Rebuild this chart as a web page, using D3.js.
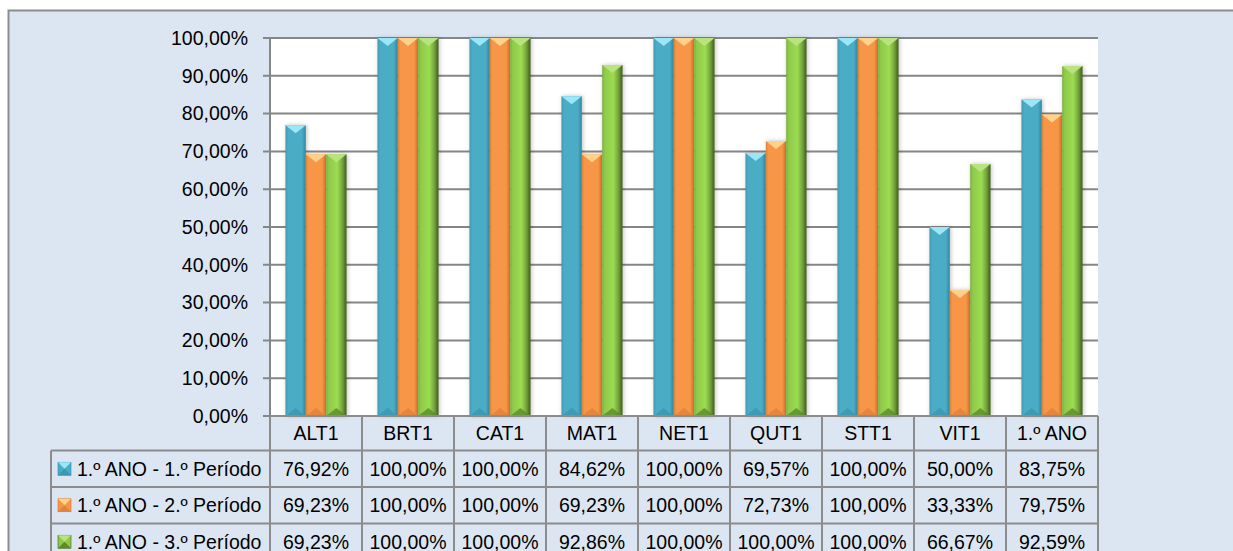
<!DOCTYPE html>
<html><head><meta charset="utf-8">
<script src="https://cdn.jsdelivr.net/npm/d3@7"></script>
<style>body{margin:0;background:#fff;}svg{display:block;font-family:"Liberation Sans",Arial,sans-serif;}</style>
</head><body>
<svg id="c" width="1233" height="551"></svg>
<script>
const categories = ["ALT1","BRT1","CAT1","MAT1","NET1","QUT1","STT1","VIT1","1.º ANO"];
const seriesNames = ["1.º ANO - 1.º Período","1.º ANO - 2.º Período","1.º ANO - 3.º Período"];
const period1 = [76.92,100,100,84.62,100,69.57,100,50.00,83.75];
const period2 = [69.23,100,100,69.23,100,72.73,100,33.33,79.75];
const period3 = [69.23,100,100,92.86,100,100,100,66.67,92.59];
const yTicks = [0,10,20,30,40,50,60,70,80,90,100];

const seriesValues = [period1, period2, period3];
const pal = [
  {main:"#4bacc6", dark:"#2f8aa3", light:"#9be6f7", bottom:"#3b97b0"},
  {main:"#f79646", dark:"#d87424", light:"#fdd28c", bottom:"#e0823a"},
  {main:"#8fc94a", dark:"#3f5c1c", light:"#b9e37e", bottom:"#5d8a2a"}
];

const svg = d3.select("#c");
const W=1233, H=551;
const FS = 19.5;
const fmt = v => d3.format(".2f")(v).replace(".", ",") + "%";

const plot = {left:270, right:1098, top:38, bottom:416};
const x = d3.scaleBand().domain(categories).range([plot.left, plot.right]).padding(0);
const xs = d3.scaleBand().domain(d3.range(3)).range([0, x.bandwidth()]).paddingOuter(0.76).paddingInner(0);
const y = d3.scaleLinear().domain([0,100]).range([plot.bottom, plot.top]);

const defs = svg.append("defs");
pal.forEach((p,i)=>{
  const g = defs.append("linearGradient").attr("id","g"+i).attr("x1","0").attr("x2","1").attr("y1","0").attr("y2","0");
  g.append("stop").attr("offset","0").attr("stop-color", d3.color(p.main).darker(0.4));
  g.append("stop").attr("offset","0.12").attr("stop-color", p.main);
  g.append("stop").attr("offset","0.55").attr("stop-color", i===2 ? d3.color(p.main).brighter(0.25) : p.main);
  g.append("stop").attr("offset","0.8").attr("stop-color", i===2 ? d3.color(p.main).darker(0.6) : p.main);
  g.append("stop").attr("offset","1").attr("stop-color", p.dark);
});
const f = defs.append("filter").attr("id","sh").attr("x","-30%").attr("y","-10%").attr("width","160%").attr("height","120%");
f.append("feDropShadow").attr("dx",1).attr("dy",0).attr("stdDeviation",2).attr("flood-color","#000").attr("flood-opacity",0.25);

svg.append("rect").attr("x",0).attr("y",0).attr("width",W).attr("height",H).attr("fill","#fff");
svg.append("rect").attr("x",8.5).attr("y",10.5).attr("width",W+20).attr("height",H+20)
  .attr("fill","#dce6f2").attr("stroke","#8c8c8c").attr("stroke-width",2);

svg.append("rect").attr("x",plot.left).attr("y",plot.top).attr("width",plot.right-plot.left).attr("height",plot.bottom-plot.top).attr("fill","#fff");

const grid = svg.append("g");
yTicks.forEach(t=>{
  grid.append("line").attr("x1",plot.left-7).attr("x2",plot.right).attr("y1",y(t)).attr("y2",y(t))
    .attr("stroke","#868686").attr("stroke-width",2);
  grid.append("text").attr("x",248).attr("y",y(t)).attr("dy","0.35em").attr("text-anchor","end")
    .attr("font-size",FS).attr("fill","#000").text(fmt(t));
});
grid.append("line").attr("x1",plot.left).attr("x2",plot.left).attr("y1",plot.top).attr("y2",plot.bottom).attr("stroke","#868686").attr("stroke-width",2);

const bars = svg.append("g");
categories.forEach((c,ci)=>{
  seriesValues.forEach((vals,si)=>{
    const v = vals[ci];
    const x0 = x(c) + xs(si), bw = xs.bandwidth();
    const y0 = y(v), y1 = y(0);
    const g = bars.append("g");
    g.append("rect").attr("x",x0).attr("y",y0).attr("width",bw).attr("height",y1-y0)
      .attr("fill","url(#g"+si+")").attr("filter","url(#sh)");
    const th = Math.min(8, (y1-y0)/2);
    g.append("path").attr("d",`M${x0},${y0}L${x0+bw},${y0}L${x0+bw/2},${y0+th}Z`).attr("fill",pal[si].light);
    g.append("path").attr("d",`M${x0},${y1}L${x0+bw},${y1}L${x0+bw/2},${y1-th}Z`).attr("fill",pal[si].bottom).attr("opacity",0.8);
  });
});

const tbl = svg.append("g");
const rowTop = [416, 450.5, 487, 523.5, 560];
const tableLeft = 51;
const lc = "#8c8c8c";
categories.forEach(c=>{
  tbl.append("text").attr("x", x(c)+x.bandwidth()/2).attr("y",(rowTop[0]+rowTop[1])/2).attr("dy","0.35em")
    .attr("text-anchor","middle").attr("font-size",FS).text(c);
});
seriesValues.forEach((vals,si)=>{
  const yc = (rowTop[si+1]+rowTop[si+2])/2;
  categories.forEach((c,ci)=>{
    tbl.append("text").attr("x", x(c)+x.bandwidth()/2).attr("y",yc).attr("dy","0.35em")
      .attr("text-anchor","middle").attr("font-size",FS).text(fmt(vals[ci]));
  });
  const kx=58, ky=yc-6.5, ks=13, p=pal[si];
  tbl.append("rect").attr("x",kx).attr("y",ky).attr("width",ks).attr("height",ks).attr("fill",p.main).attr("stroke",p.dark).attr("stroke-width",0.6);
  tbl.append("path").attr("d",`M${kx},${ky}L${kx+ks},${ky}L${kx+ks/2},${ky+ks/2}Z`).attr("fill",p.light);
  tbl.append("path").attr("d",`M${kx},${ky+ks}L${kx+ks},${ky+ks}L${kx+ks/2},${ky+ks/2}Z`).attr("fill",p.bottom);
  tbl.append("text").attr("x",77).attr("y",yc).attr("dy","0.35em").attr("font-size",FS).text(seriesNames[si]);
});
tbl.append("line").attr("x1",plot.left).attr("x2",plot.right).attr("y1",rowTop[0]).attr("y2",rowTop[0]).attr("stroke",lc).attr("stroke-width",2);
[1,2,3,4].forEach(r=>{
  tbl.append("line").attr("x1",tableLeft).attr("x2",plot.right).attr("y1",rowTop[r]).attr("y2",rowTop[r]).attr("stroke",lc).attr("stroke-width",2);
});
tbl.append("line").attr("x1",tableLeft).attr("x2",tableLeft).attr("y1",rowTop[1]).attr("y2",H+10).attr("stroke",lc).attr("stroke-width",2);
categories.forEach(c=>{
  tbl.append("line").attr("x1",x(c)).attr("x2",x(c)).attr("y1",rowTop[0]).attr("y2",H+10).attr("stroke",lc).attr("stroke-width",2);
});
tbl.append("line").attr("x1",plot.right).attr("x2",plot.right).attr("y1",rowTop[0]).attr("y2",H+10).attr("stroke",lc).attr("stroke-width",2);
</script>
</body></html>
